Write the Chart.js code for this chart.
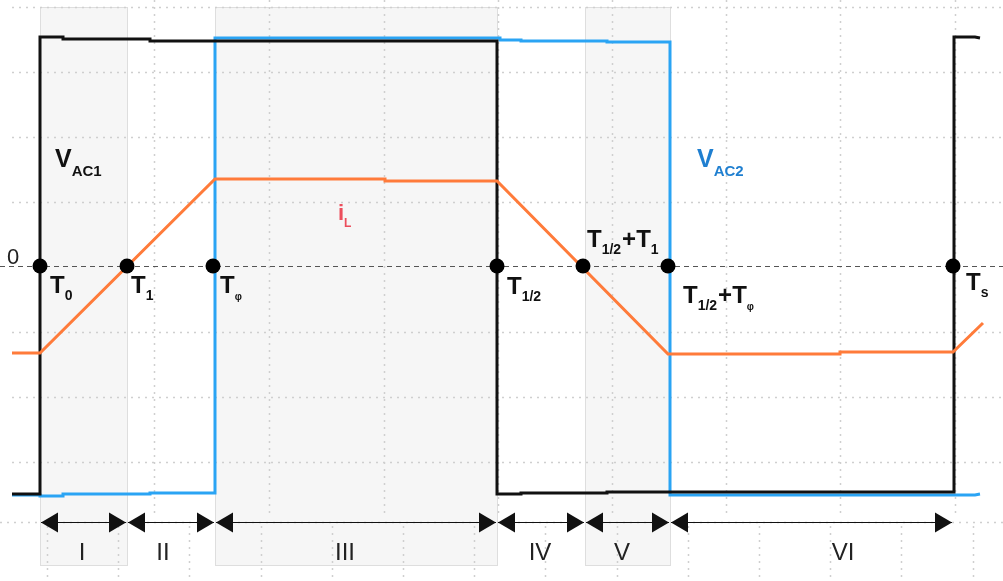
<!DOCTYPE html>
<html>
<head>
<meta charset="utf-8">
<script src="https://cdn.jsdelivr.net/npm/chart.js@4.4.1/dist/chart.umd.min.js"></script>
<style>
html, body { margin: 0; padding: 0; background: #fff; }
#wave { display: block; }
</style>
</head>
<body>
<canvas id="wave" width="1003" height="581"></canvas>
<script>
// bridge voltage V_AC1 (piecewise, time -> level)
const vac1Time  = [12, 40, 40, 63, 63, 150, 150, 497, 497, 521, 521, 607, 607, 954, 954, 975, 980];
const vac1Level = [-228, -228, 229, 229, 227, 227, 225, 225, -228, -228, -227, -227, -226, -226, 229, 229, 228];

// bridge voltage V_AC2
const vac2Time  = [12, 40, 40, 63, 63, 150, 150, 215, 215, 500, 500, 521, 521, 607, 607, 670, 670, 975, 980];
const vac2Level = [-229, -229, -230, -230, -228, -228, -227, -227, 228, 228, 226, 226, 225, 225, 224, 224, -229, -229, -228];

// inductor current i_L
const iLTime  = [12, 40, 215, 385, 385, 497, 668, 840, 840, 953, 983];
const iLLevel = [-87, -87, 87, 87, 85, 85, -88, -88, -86, -86, -57];

// switching instants on the zero line
const eventTime = [40, 127, 213, 497, 583, 668, 953];
const eventName = [
    ['T', '0'], ['T', '1'], ['T', 'φ'], ['T', '1/2'],
    ['T', '1/2', '+T', '1'], ['T', '1/2', '+T', 'φ'], ['T', 's']
];

// operating intervals
const intervalEdges = [40, 127, 215, 497, 585, 670, 953];
const intervalNames = ['I', 'II', 'III', 'IV', 'V', 'VI'];
const shadedIntervals = [0, 2, 4];

// ---- layout only below ----
const nameOffset = [[10, 27], [4, 27], [7, 27], [10, 28], [4, -19], [15, 37], [13, 24]];
const romanX = [82, 163, 345, 540, 622, 843];
const gridTimes = [154, 269, 384, 498, 612, 726, 840, 955];
const gridLevels = [259, 194, 129, 64, -66, -131, -196];
const arrowLevel = -256;
const romanLevel = -294;
const shadeTop = 259, shadeBottom = -299;

const BLACK = '#111111';
const BLUE = '#2aa4f4';
const ORANGE = '#ff7b3a';

function pairs(xs, ys) {
    return xs.map((x, i) => ({ x: x, y: ys[i] }));
}

// text with alternating normal / subscript parts
function drawSub(ctx, x, y, parts, color, big, small, drop) {
    ctx.fillStyle = color;
    ctx.textBaseline = 'alphabetic';
    ctx.textAlign = 'left';
    let cx = x;
    parts.forEach((p, i) => {
        const isSub = i % 2 === 1;
        let size = isSub ? small : big;
        if (isSub && p === 'φ') size = small - 4;
        ctx.font = 'bold ' + size + 'px "Liberation Sans", Arial, sans-serif';
        ctx.fillText(p, cx, isSub ? y + drop : y);
        cx += ctx.measureText(p).width + (isSub ? 1 : 0);
    });
}

const backdrop = {
    id: 'backdrop',
    beforeDatasetsDraw(chart) {
        const ctx = chart.ctx;
        const xs = chart.scales.x, ys = chart.scales.y;
        ctx.save();

        // shaded intervals
        shadedIntervals.forEach(k => {
            const x0 = xs.getPixelForValue(intervalEdges[k]);
            const x1 = xs.getPixelForValue(intervalEdges[k + 1]);
            const y0 = ys.getPixelForValue(shadeTop);
            const y1 = ys.getPixelForValue(shadeBottom);
            ctx.fillStyle = '#f6f6f6';
            ctx.fillRect(x0, y0, x1 - x0, y1 - y0);
            ctx.strokeStyle = '#dedede';
            ctx.lineWidth = 1;
            ctx.strokeRect(x0 + 0.5, y0 + 0.5, x1 - x0, y1 - y0);
        });

        // dotted grid
        ctx.strokeStyle = '#cfcfcf';
        ctx.lineWidth = 1.5;
        ctx.setLineDash([2, 5]);
        const yArrow = ys.getPixelForValue(arrowLevel);
        gridTimes.forEach(t => {
            const px = Math.round(xs.getPixelForValue(t)) + 0.5;
            ctx.beginPath();
            ctx.moveTo(px, 0);
            ctx.lineTo(px, yArrow - 4);
            ctx.stroke();
        });
        gridLevels.forEach(v => {
            const py = Math.round(ys.getPixelForValue(v)) + 0.5;
            ctx.beginPath();
            ctx.moveTo(xs.getPixelForValue(12), py);
            ctx.lineTo(chart.width, py);
            ctx.stroke();
        });
        // lower band grid
        for (let t = 47; t < 1003; t += 71.2) {
            const px = Math.round(xs.getPixelForValue(t)) + 0.5;
            ctx.beginPath();
            ctx.moveTo(px, yArrow + 4);
            ctx.lineTo(px, chart.height);
            ctx.stroke();
        }
        ctx.beginPath();
        ctx.moveTo(0, Math.round(yArrow) + 0.5);
        ctx.lineTo(chart.width, Math.round(yArrow) + 0.5);
        ctx.stroke();

        // zero reference
        const y0 = Math.round(ys.getPixelForValue(0)) + 0.5;
        ctx.strokeStyle = '#555';
        ctx.lineWidth = 1.2;
        ctx.setLineDash([5, 4]);
        ctx.beginPath();
        ctx.moveTo(0, y0);
        ctx.lineTo(chart.width, y0);
        ctx.stroke();
        ctx.restore();
    }
};

const annotations = {
    id: 'annotations',
    afterDatasetsDraw(chart) {
        const ctx = chart.ctx;
        const xs = chart.scales.x, ys = chart.scales.y;
        ctx.save();

        // interval arrows
        const ay = Math.round(ys.getPixelForValue(arrowLevel)) + 0.5;
        ctx.strokeStyle = '#111';
        ctx.fillStyle = '#111';
        ctx.lineWidth = 1;
        for (let k = 0; k < intervalNames.length; k++) {
            const a = xs.getPixelForValue(intervalEdges[k]) + 1;
            const b = xs.getPixelForValue(intervalEdges[k + 1]) - 1;
            ctx.beginPath();
            ctx.moveTo(a, ay);
            ctx.lineTo(b, ay);
            ctx.stroke();
            ctx.beginPath();
            ctx.moveTo(a, ay);
            ctx.lineTo(a + 17, ay - 10);
            ctx.lineTo(a + 17, ay + 10);
            ctx.closePath();
            ctx.fill();
            ctx.beginPath();
            ctx.moveTo(b, ay);
            ctx.lineTo(b - 17, ay - 10);
            ctx.lineTo(b - 17, ay + 10);
            ctx.closePath();
            ctx.fill();
        }

        // interval names
        ctx.font = '24px "Liberation Sans", Arial, sans-serif';
        ctx.textAlign = 'center';
        ctx.textBaseline = 'alphabetic';
        ctx.fillStyle = '#222';
        intervalNames.forEach((n, k) => {
            ctx.fillText(n, xs.getPixelForValue(romanX[k]), ys.getPixelForValue(romanLevel));
        });

        // instant names
        eventTime.forEach((t, k) => {
            const px = xs.getPixelForValue(t) + nameOffset[k][0];
            const py = ys.getPixelForValue(0) + nameOffset[k][1];
            drawSub(ctx, px, py, eventName[k], '#111', 24, 14, 7);
        });

        // trace names
        const y0 = ys.getPixelForValue(0);
        ctx.font = '22px "Liberation Sans", Arial, sans-serif';
        ctx.fillStyle = '#222';
        ctx.textAlign = 'left';
        ctx.fillText('0', 7, y0 - 2);
        drawSub(ctx, xs.getPixelForValue(55), y0 - 99, ['V', 'AC1'], '#111', 25, 15, 9);
        drawSub(ctx, xs.getPixelForValue(697), y0 - 99, ['V', 'AC2'], '#1f7fd0', 25, 15, 9);
        drawSub(ctx, xs.getPixelForValue(338), y0 - 46, ['i', 'L'], '#ec4e5c', 22, 12, 7);
        ctx.restore();
    }
};

new Chart(document.getElementById('wave'), {
    type: 'scatter',
    data: {
        datasets: [
            {
                label: 'instants',
                data: eventTime.map(t => ({ x: t, y: 0 })),
                showLine: false,
                pointRadius: 7.5,
                pointBackgroundColor: '#000',
                pointBorderWidth: 0
            },
            {
                label: 'iL',
                data: pairs(iLTime, iLLevel),
                showLine: true,
                borderColor: ORANGE,
                borderWidth: 3,
                pointRadius: 0,
                tension: 0
            },
            {
                label: 'VAC1',
                data: pairs(vac1Time, vac1Level),
                showLine: true,
                borderColor: BLACK,
                borderWidth: 3,
                pointRadius: 0,
                tension: 0
            },
            {
                label: 'VAC2',
                data: pairs(vac2Time, vac2Level),
                showLine: true,
                borderColor: BLUE,
                borderWidth: 3,
                pointRadius: 0,
                tension: 0
            }
        ]
    },
    options: {
        responsive: false,
        animation: false,
        layout: { padding: 0, autoPadding: false },
        plugins: {
            legend: { display: false },
            tooltip: { enabled: false }
        },
        scales: {
            x: { type: 'linear', min: 0, max: 1003, display: false },
            y: { type: 'linear', min: -315, max: 266, display: false }
        }
    },
    plugins: [backdrop, annotations]
});
</script>
</body>
</html>
